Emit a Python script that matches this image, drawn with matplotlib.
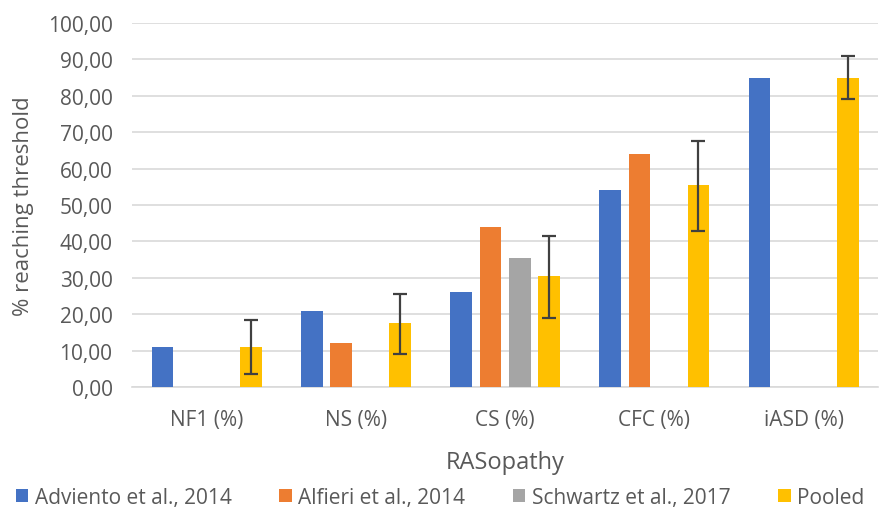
import numpy as np
import matplotlib.pyplot as plt

plt.rcParams['font.family'] = ['Open Sans', 'DejaVu Sans']

categories = ['NF1 (%)', 'NS (%)', 'CS (%)', 'CFC (%)', 'iASD (%)']
series = ['Adviento et al., 2014', 'Alfieri et al., 2014', 'Schwartz et al., 2017', 'Pooled']
adviento = [11, 21, 26, 54, 85]
alfieri = [np.nan, 12, 44, 64, np.nan]
schwartz = [np.nan, np.nan, 35.5, np.nan, np.nan]
pooled = [11, 17.5, 30.5, 55.5, 85]
pooled_lo = [3.5, 9, 19, 43, 79]
pooled_hi = [18.5, 25.5, 41.5, 67.5, 91]
colors = ['#4472C4', '#ED7D31', '#A5A5A5', '#FFC000']

fig = plt.figure(figsize=(8.8, 5.1), dpi=100)
ax = fig.add_axes([0.15, 0.239, 0.848, 0.714])

x = np.arange(len(categories))
step = 0.197
width = 0.145
data = [adviento, alfieri, schwartz, pooled]
for i, (vals, c, lab) in enumerate(zip(data, colors, series)):
    ax.bar(x + (i - 1.5) * step, vals, width, color=c, label=lab, zorder=3)

pooled = np.array(pooled)
err = [pooled - np.array(pooled_lo), np.array(pooled_hi) - pooled]
ax.errorbar(x + 1.5 * step, pooled, yerr=err, fmt='none', ecolor='#404040',
            elinewidth=1.6, capsize=5, capthick=1.6, zorder=4)

ax.set_ylim(0, 100)
ax.set_xlim(-0.5, 4.5)
ax.set_yticks(np.arange(0, 101, 10))
ax.set_yticklabels(['%d,00' % v for v in range(0, 101, 10)])
ax.set_xticks(x)
ax.set_xticklabels(categories)
ax.grid(axis='y', color='#D9D9D9', linewidth=1.2, zorder=0)
for s in ['top', 'right', 'left']:
    ax.spines[s].set_visible(False)
ax.spines['bottom'].set_color('#D9D9D9')
ax.spines['bottom'].set_linewidth(1.2)
ax.tick_params(axis='y', length=0, labelsize=15, colors='#595959', pad=14)
ax.tick_params(axis='x', length=0, labelsize=15, colors='#595959', pad=16)
ax.set_xlabel('RASopathy', fontsize=17, color='#595959', labelpad=14)
ax.set_ylabel('% reaching threshold', fontsize=16, color='#595959', labelpad=10)

fig.legend(loc='lower center', ncol=4, frameon=False, fontsize=15,
           bbox_to_anchor=(0.5, -0.035), handlelength=0.6, handleheight=0.6,
           handletextpad=0.3, columnspacing=2.3, labelcolor='#595959')

fig.savefig('out.png')
